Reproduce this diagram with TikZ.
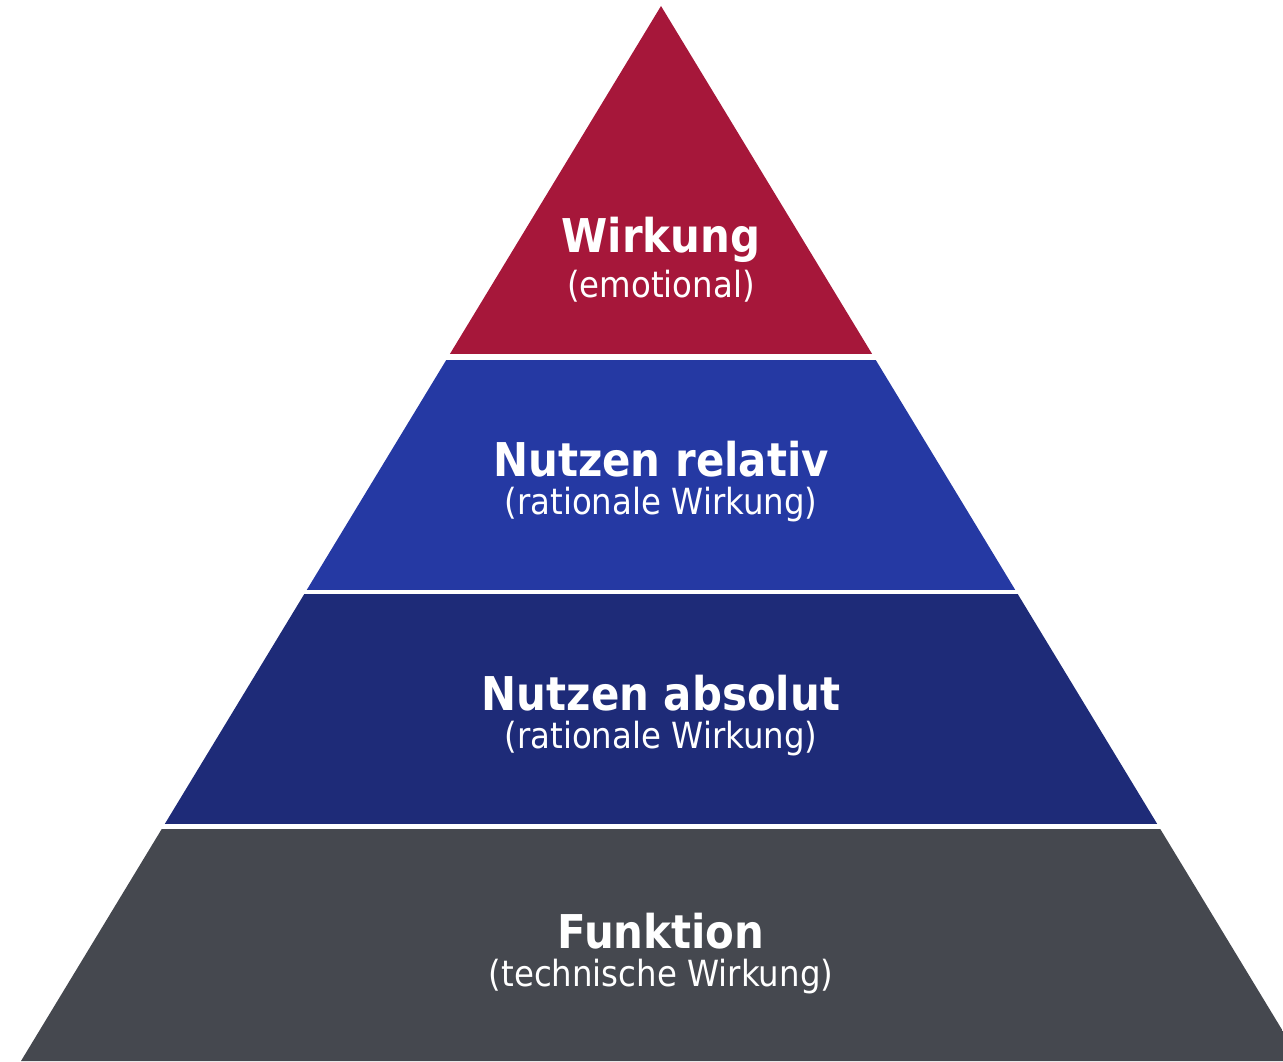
\documentclass[tikz,border=0pt]{standalone}
\usepackage{fontspec}
\setmainfont{DejaVu Sans}[FakeStretch=0.9]
\usetikzlibrary{positioning}

\definecolor{wirkungred}{HTML}{A6173A}
\definecolor{relativblue}{HTML}{2539A3}
\definecolor{absolutblue}{HTML}{1E2B78}
\definecolor{funktiongray}{HTML}{45484F}

\begin{document}
\begin{tikzpicture}[x=0.02cm,y=-0.02cm,node distance=0.92cm,on grid]
  \tikzstyle{titleN}=[text=white,font=\bfseries\fontsize{26.5}{30}\selectfont]
  \tikzstyle{subN}=[text=white,font=\fontsize{20.5}{24}\selectfont]

  \useasboundingbox (0,0) rectangle (1283,1061);

  \coordinate (apex) at (661,6);
  \coordinate (bl)   at (21,1061);
  \coordinate (br)   at (1301,1061);

  % pyramid, cut into four bands
  \begin{scope}
    \clip (apex) -- (bl) -- (br) -- cycle;
    \fill[wirkungred]   (0,0)   rectangle (1320,354);
    \fill[relativblue]  (0,360) rectangle (1320,590);
    \fill[absolutblue]  (0,594) rectangle (1320,824);
    \fill[funktiongray] (0,829) rectangle (1320,1070);
  \end{scope}

  \node[titleN] (wirkung)  at (661,240) {Wirkung};
  \node[subN]   (emot)     [below=of wirkung] {(emotional)};

  \node[titleN] (relativ)  at (661,459) {Nutzen relativ};
  \node[subN]   (ratrel)   [below=of relativ] {(rationale Wirkung)};

  \node[titleN] (absolut)  at (661,693) {Nutzen absolut};
  \node[subN]   (ratabs)   [below=of absolut] {(rationale Wirkung)};

  \node[titleN] (funktion) at (661,931) {Funktion};
  \node[subN]   (technik)  [below=of funktion] {(technische Wirkung)};
\end{tikzpicture}
\end{document}
